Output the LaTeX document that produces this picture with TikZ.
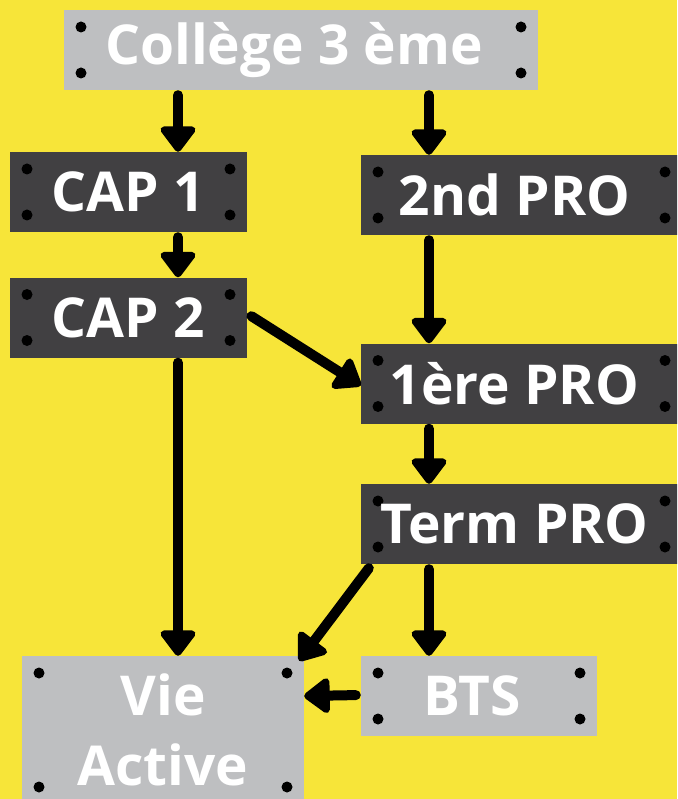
\documentclass[tikz,border=0pt]{standalone}
\usepackage{fontspec}
\setmainfont{Open Sans}
\usetikzlibrary{arrows.meta}
\definecolor{bgyellow}{HTML}{F7E539}
\definecolor{boxgray}{HTML}{BEBFC1}
\definecolor{boxdark}{HTML}{414042}
\tikzset{
	box/.style={inner sep=0pt, minimum height=80pt, text=white,
		font=\fontsize{55}{70}\selectfont\bfseries,
		path picture={
			\fill[black] ([shift={(17,17)}]path picture bounding box.north west) circle [radius=5.5pt];
			\fill[black] ([shift={(-17,17)}]path picture bounding box.north east) circle [radius=5.5pt];
			\fill[black] ([shift={(17,-17)}]path picture bounding box.south west) circle [radius=5.5pt];
			\fill[black] ([shift={(-17,-17)}]path picture bounding box.south east) circle [radius=5.5pt];
		}},
	lightbox/.style={box, fill=boxgray},
	darkbox/.style={box, fill=boxdark},
	leftish/.style={execute at begin node=\hspace*{-14pt}},
	arr/.style={line width=10pt, line cap=round, shorten <=5pt,
		-{Triangle[width=40pt,length=28pt,round]}}
}
\begin{document}
\begin{tikzpicture}[x=1pt,y=-1pt]
					\useasboundingbox (0,0) rectangle (677,799);
					\clip (0,0) rectangle (677,799);
					\fill[bgyellow] (0,0) rectangle (677,799);
					\node[lightbox, leftish, minimum width=474pt] (college) at (301,50){Collège 3 ème};
					\node[darkbox, minimum width=237pt] (cap1) at (128.5,192){CAP 1};
					\node[darkbox, minimum width=237pt] (cap2) at (128.5,317.5){CAP 2};
					\node[darkbox, leftish, minimum width=321pt] (pro2) at (521.5,195){2nd PRO};
					\node[darkbox, leftish, minimum width=321pt] (pro1) at (521.5,383.5){1ère PRO};
					\node[darkbox, leftish, minimum width=321pt] (term) at (521.5,524){Term PRO};
					\node[lightbox, leftish, minimum width=236pt] (bts) at (479,696){BTS};
					\node[lightbox, minimum width=282pt, minimum height=148pt, align=center] (vie) at (163,730){Vie\\Active};
					\coordinate (lcol) at ([xshift=49.5pt]cap1.north);
					\coordinate (rcol) at ([xshift=-92.5pt]pro2.north);
					\draw[arr] (college.south -| lcol) -- (cap1.north -| lcol);
					\draw[arr] (college.south -| rcol) -- (pro2.north -| rcol);
					\draw[arr] (cap1.south -| lcol) -- (cap2.north -| lcol);
					\draw[arr] (pro2.south -| rcol) -- (pro1.north -| rcol);
					\draw[arr] ([yshift=4pt]cap2.east) -- ([yshift=-2pt]pro1.west);
					\draw[arr] (pro1.south -| rcol) -- (term.north -| rcol);
					\draw[arr] (cap2.south -| lcol) -- (vie.north -| lcol);
					\draw[arr] ([xshift=11pt]term.south west) -- ([shift={(-5pt,-5pt)}]vie.north east);
					\draw[arr] (term.south -| rcol) -- (bts.north -| rcol);
					\draw[arr] ([yshift=1pt]bts.west) -- (vie.east |- bts.west);
				\end{tikzpicture}
\end{document}
